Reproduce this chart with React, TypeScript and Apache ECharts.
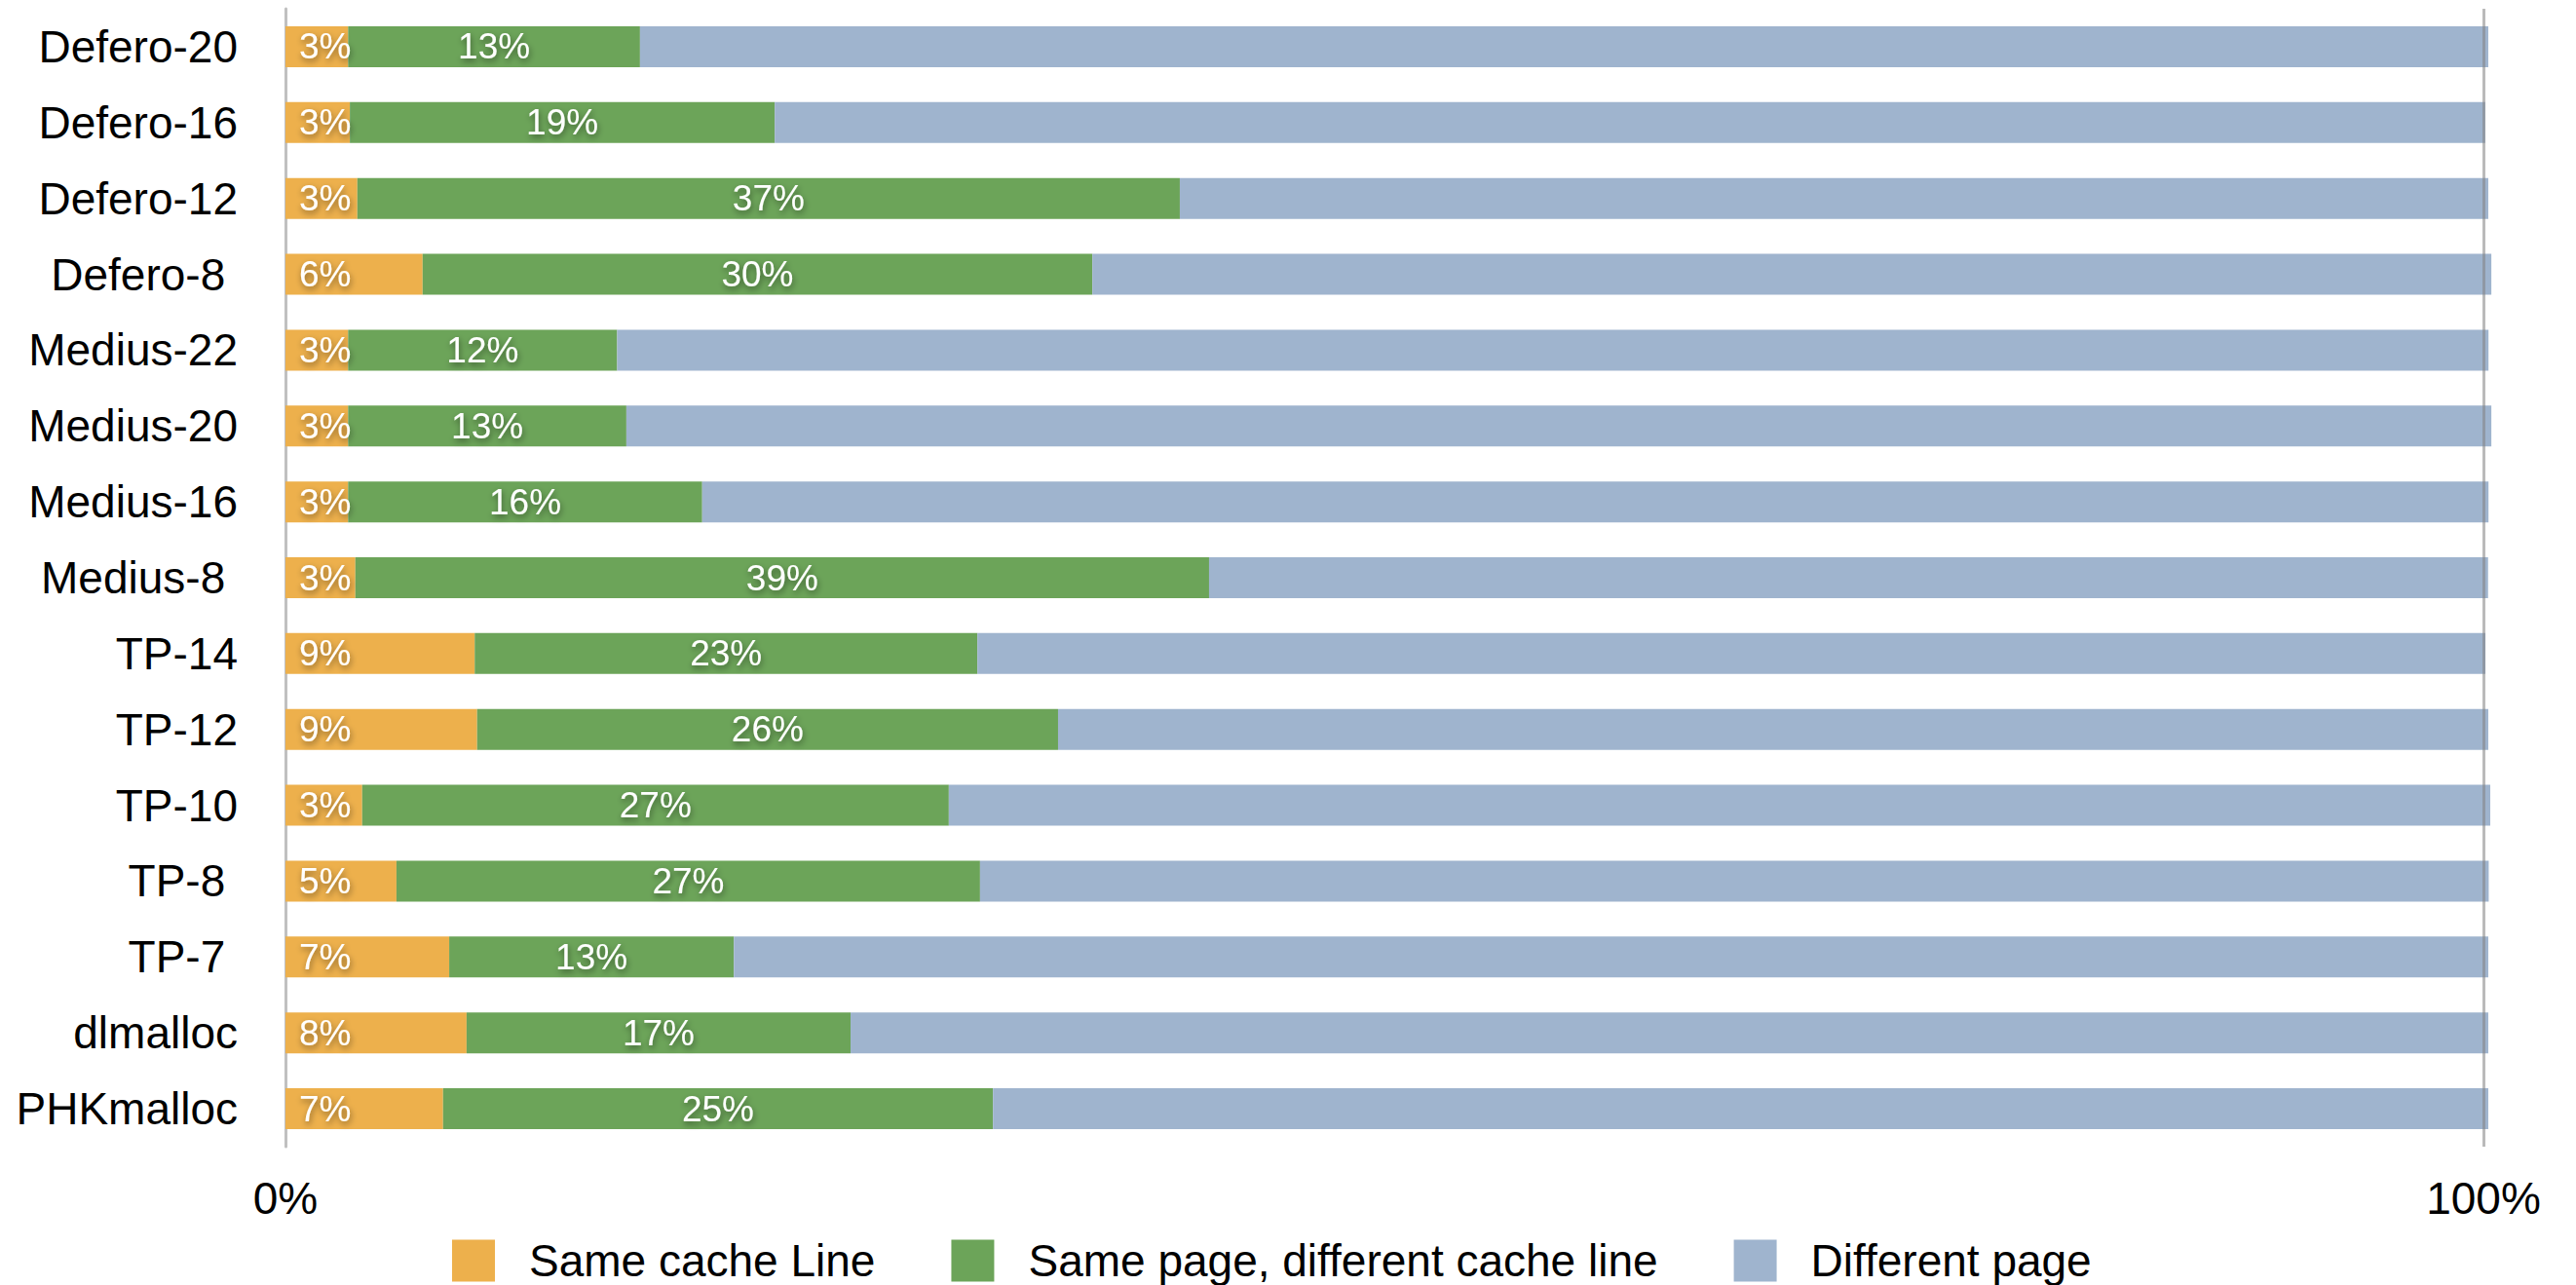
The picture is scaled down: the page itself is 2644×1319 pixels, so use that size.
import React, { useEffect, useRef } from "react";
import * as echarts from "echarts";

const categories = [
  "Defero-20", "Defero-16", "Defero-12", "Defero-8 ", "Medius-22", "Medius-20", "Medius-16", "Medius-8 ",
  "TP-14", "TP-12", "TP-10", "TP-8 ", "TP-7 ", "dlmalloc", "PHKmalloc",
];
const sameCacheLine = [2.85, 2.93, 3.27, 6.24, 2.85, 2.85, 2.85, 3.18, 8.61, 8.72, 3.49, 5.05, 7.45, 8.24, 7.17];
const samePageDiffLine = [13.28, 19.33, 37.42, 30.47, 12.24, 12.66, 16.11, 38.84, 22.87, 26.43, 26.69, 26.55, 12.95, 17.47, 25.02];
const differentPage = [84.09, 77.82, 59.53, 63.65, 85.14, 84.85, 81.27, 58.19, 68.61, 65.07, 70.13, 68.64, 79.82, 74.51, 68.03];
const seriesNames = ["Same cache Line", "Same page, different cache line", "Different page"];
const colors = ["#EDB04C", "#6CA459", "#9FB4CE"];

const FONT = "'Liberation Sans', Arial, Helvetica, sans-serif";

export default function App() {
  const ref = useRef<HTMLDivElement>(null);
  useEffect(() => {
    if (!ref.current) return;
    const chart = echarts.init(ref.current, null, { renderer: "svg" });
    const barLabel = (pos: string, dist: number) => ({
      show: true,
      position: pos,
      distance: dist,
      color: "#ffffff",
      fontFamily: FONT,
      fontSize: 37,
      textShadowColor: "rgba(0,0,0,0.45)",
      textShadowBlur: 6,
      textShadowOffsetX: 1,
      textShadowOffsetY: 3,
      formatter: (p: any) => Math.round(p.value) + "%",
    });
    chart.setOption({
      animation: false,
      color: colors,
      textStyle: { fontFamily: FONT },
      grid: {
        left: 293,
        top: 9,
        width: 2256,
        height: 1168,
        containLabel: false,
        outerBoundsMode: "none",
      },
      legend: {
        left: 464,
        top: 1271,
        padding: 0,
        itemWidth: 44,
        itemHeight: 43,
        itemGap: 78,
        icon: "rect",
        data: seriesNames,
        textStyle: {
          fontFamily: FONT,
          fontSize: 46,
          lineHeight: 44,
          color: "#000",
          padding: [0, 0, 0, 30],
        },
      },
      xAxis: {
        type: "value",
        min: 0,
        max: 100,
        interval: 100,
        axisLine: { show: false },
        axisTick: { show: false },
        splitLine: { show: false },
        axisLabel: {
          formatter: "{value}%",
          fontFamily: FONT,
          fontSize: 46,
          color: "#000",
          margin: 30,
        },
      },
      yAxis: {
        type: "category",
        inverse: true,
        data: categories,
        axisLine: { show: true, lineStyle: { color: "#C0C0C0", width: 3 } },
        axisTick: { show: false },
        axisLabel: {
          fontFamily: FONT,
          fontSize: 46,
          color: "#000",
          margin: 49,
        },
      },
      series: [
        {
          name: seriesNames[0],
          type: "bar",
          stack: "total",
          barWidth: 42,
          clip: false,
          data: sameCacheLine,
          label: barLabel("insideLeft", 14),
        },
        {
          name: seriesNames[1],
          type: "bar",
          stack: "total",
          barWidth: 42,
          clip: false,
          data: samePageDiffLine,
          label: barLabel("inside", 0),
        },
        {
          name: seriesNames[2],
          type: "bar",
          stack: "total",
          barWidth: 42,
          clip: false,
          data: differentPage,
          label: { show: false },
          markLine: {
            silent: true,
            symbol: "none",
            label: { show: false },
            lineStyle: { color: "rgba(130,130,130,0.55)", width: 3, type: "solid" },
            data: [{ xAxis: 100 }],
            z: 10,
          },
        },
      ],
    });
    return () => chart.dispose();
  }, []);
  return (
    <div
      ref={ref}
      style={{ position: "fixed", left: 0, top: 0, width: 2644, height: 1319, background: "#fff" }}
    />
  );
}
